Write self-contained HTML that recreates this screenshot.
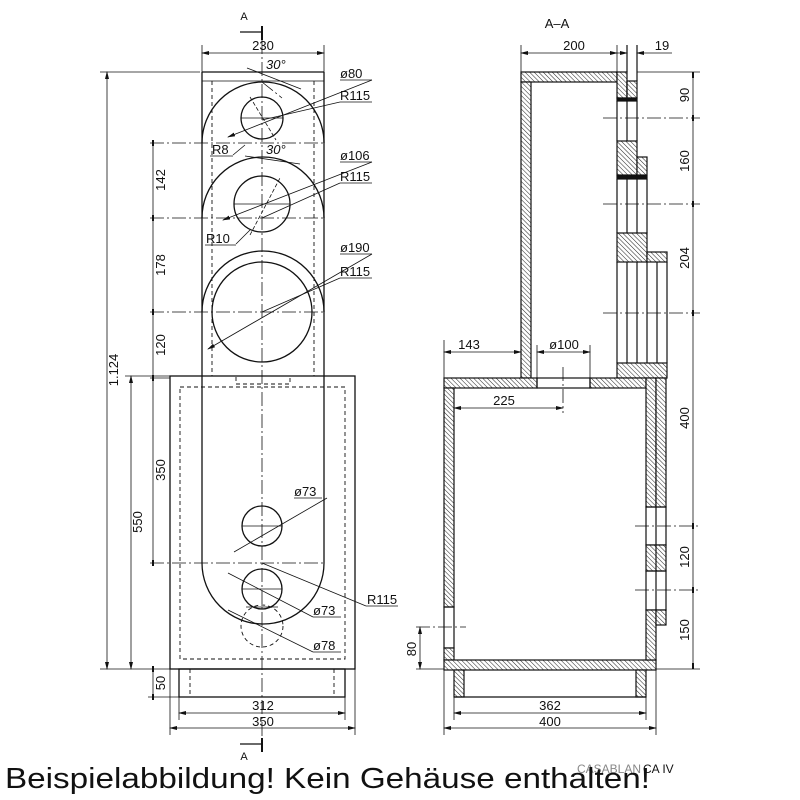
<!DOCTYPE html>
<html><head><meta charset="utf-8"><style>
html,body{margin:0;padding:0;background:#fff;}
svg{display:block;}
text{font-family:"Liberation Sans","DejaVu Sans",sans-serif;fill:#111;}
</style></head><body>
<svg width="800" height="800" viewBox="0 0 800 800" xmlns="http://www.w3.org/2000/svg">
<defs>
<pattern id="h" patternUnits="userSpaceOnUse" width="3.2" height="3.2" patternTransform="rotate(-45)">
<rect width="3.2" height="3.2" fill="#fff"/><line x1="0" y1="0" x2="0" y2="3.2" stroke="#222" stroke-width="1"/>
</pattern>
<marker id="a" markerWidth="8" markerHeight="6" refX="7" refY="3" orient="auto-start-reverse" markerUnits="userSpaceOnUse"><path d="M0,1 L8,3 L0,5 z" fill="#111"/></marker>
</defs>
<g fill="none" stroke="#111" stroke-width="1.3">
<!-- FRONT VIEW upper column -->
<line x1="202" y1="72" x2="324" y2="72"/>
<line x1="202" y1="81" x2="324" y2="81" stroke-width="0.8"/>
<line x1="202" y1="72" x2="202" y2="563"/>
<line x1="324" y1="72" x2="324" y2="563"/>
<path d="M202,563 A61,61 0 0 0 324,563"/>
<path d="M202,143 A61,61 0 0 1 324,143"/>
<path d="M202,218 A61,61 0 0 1 324,218"/>
<path d="M202,312 A61,61 0 0 1 324,312"/>
<g stroke-dasharray="4,3" stroke-width="0.9">
<line x1="212" y1="81" x2="212" y2="376"/><line x1="314" y1="81" x2="314" y2="376"/>
<rect x="236" y="376" width="54" height="8"/>
<rect x="180" y="387" width="165" height="272"/>
<line x1="190" y1="669" x2="190" y2="697"/><line x1="334" y1="669" x2="334" y2="697"/>
<circle cx="262" cy="626" r="21"/>
</g>
<!-- drivers -->
<circle cx="262" cy="118" r="21"/>
<circle cx="262" cy="204" r="28"/>
<circle cx="262" cy="312" r="50"/>
<circle cx="262" cy="526" r="20"/>
<circle cx="262" cy="589" r="20"/>
<g stroke-width="0.8">
<line x1="241" y1="118" x2="283" y2="118"/><line x1="234" y1="204" x2="290" y2="204"/>
<line x1="242" y1="526" x2="282" y2="526"/><line x1="242" y1="589" x2="282" y2="589"/>
<line x1="246" y1="607" x2="278" y2="607"/>
</g>
<!-- box -->
<rect x="170" y="376" width="185" height="293"/>
<rect x="179" y="669" width="166" height="28"/>
<!-- centerlines -->
<g stroke-width="0.8" stroke-dasharray="14,3,2,3">
<line x1="262" y1="40" x2="262" y2="745"/>
<line x1="150" y1="143" x2="326" y2="143"/>
<line x1="150" y1="218" x2="326" y2="218"/>
<line x1="150" y1="312" x2="326" y2="312"/>
<line x1="150" y1="563" x2="326" y2="563"/>
<line x1="262" y1="82" x2="282" y2="98" />
</g>
<!-- section marks -->
<line x1="262" y1="26" x2="262" y2="40" stroke-width="2"/>
<line x1="240" y1="32" x2="262" y2="32"/>
<line x1="262" y1="738" x2="262" y2="752" stroke-width="2"/>
<line x1="240" y1="744" x2="262" y2="744"/>
<!-- leaders -->
<g stroke-width="0.8">
<line x1="228" y1="137" x2="372" y2="80" marker-start="url(#a)"/><line x1="340" y1="80" x2="372" y2="80"/>
<line x1="262" y1="120" x2="340" y2="102"/><line x1="340" y1="102" x2="372" y2="102"/>
<line x1="247" y1="68" x2="301" y2="89"/>
<line x1="245" y1="145" x2="233" y2="155"/><line x1="210" y1="156" x2="233" y2="156"/>
<line x1="250" y1="97" x2="276" y2="140" stroke-dasharray="4,2"/>
<line x1="223" y1="220" x2="372" y2="162" marker-start="url(#a)"/><line x1="340" y1="162" x2="372" y2="162"/>
<line x1="262" y1="218" x2="340" y2="183"/><line x1="340" y1="183" x2="372" y2="183"/>
<line x1="245" y1="156" x2="300" y2="164"/>
<line x1="250" y1="230" x2="236" y2="244"/><line x1="205" y1="245" x2="236" y2="245"/>
<line x1="250" y1="235" x2="280" y2="178" stroke-dasharray="4,2"/>
<line x1="208" y1="349" x2="372" y2="254" marker-start="url(#a)"/><line x1="340" y1="254" x2="372" y2="254"/>
<line x1="262" y1="312" x2="340" y2="278"/><line x1="340" y1="278" x2="372" y2="278"/>
<line x1="234" y1="552" x2="327" y2="498"/><line x1="294" y1="498" x2="322" y2="498"/>
<line x1="262" y1="563" x2="366" y2="606"/><line x1="366" y1="606" x2="398" y2="606"/>
<line x1="228" y1="573" x2="313" y2="617"/><line x1="313" y1="617" x2="341" y2="617"/>
<line x1="228" y1="610" x2="313" y2="652"/><line x1="313" y1="652" x2="341" y2="652"/>
</g>
<!-- dimensions front -->
<g stroke-width="0.8">
<line x1="202" y1="45" x2="202" y2="72"/><line x1="324" y1="45" x2="324" y2="72"/>
<line x1="202" y1="53" x2="324" y2="53" marker-start="url(#a)" marker-end="url(#a)"/>
<line x1="100" y1="72" x2="200" y2="72"/>
<line x1="107" y1="72" x2="107" y2="669" marker-start="url(#a)" marker-end="url(#a)"/>
<line x1="100" y1="669" x2="170" y2="669"/>
<line x1="125" y1="376" x2="170" y2="376"/>
<line x1="131" y1="376" x2="131" y2="669" marker-start="url(#a)" marker-end="url(#a)"/>
<line x1="153" y1="143" x2="153" y2="563"/>
<line x1="153" y1="669" x2="153" y2="697"/>
<line x1="148" y1="697" x2="179" y2="697"/>
<line x1="179" y1="697" x2="179" y2="720"/><line x1="345" y1="697" x2="345" y2="720"/>
<line x1="170" y1="669" x2="170" y2="735"/><line x1="355" y1="669" x2="355" y2="735"/>
<line x1="179" y1="713" x2="345" y2="713" marker-start="url(#a)" marker-end="url(#a)"/>
<line x1="170" y1="728" x2="355" y2="728" marker-start="url(#a)" marker-end="url(#a)"/>
<line x1="150" y1="378" x2="170" y2="378"/>
</g>
<g stroke-width="2">
<line x1="153" y1="140" x2="153" y2="146"/><line x1="153" y1="215" x2="153" y2="221"/>
<line x1="153" y1="309" x2="153" y2="315"/><line x1="153" y1="375" x2="153" y2="381"/>
<line x1="153" y1="560" x2="153" y2="566"/><line x1="153" y1="666" x2="153" y2="672"/><line x1="153" y1="694" x2="153" y2="700"/>
</g>
</g>

<!-- SIDE VIEW -->
<g stroke="#111" stroke-width="1.2">
<!-- upper column -->
<rect x="521" y="72" width="96" height="10" fill="url(#h)"/>
<rect x="521" y="82" width="10" height="296" fill="url(#h)"/>
<rect x="617" y="72" width="10" height="26" fill="url(#h)"/>
<rect x="627" y="81" width="10" height="17" fill="url(#h)"/>
<rect x="617" y="98" width="20" height="3" fill="#111"/>
<rect x="617" y="141" width="20" height="34" fill="url(#h)"/>
<rect x="637" y="157" width="10" height="18" fill="url(#h)"/>
<rect x="617" y="176" width="30" height="3" fill="#111"/>
<rect x="617" y="233" width="30" height="29" fill="url(#h)"/>
<rect x="647" y="252" width="20" height="10" fill="url(#h)"/>
<rect x="617" y="363" width="50" height="15" fill="url(#h)"/>
<g fill="none">
<line x1="617" y1="101" x2="617" y2="141"/><line x1="627" y1="101" x2="627" y2="141"/><line x1="637" y1="101" x2="637" y2="141"/>
<line x1="617" y1="179" x2="617" y2="233"/><line x1="627" y1="179" x2="627" y2="233"/><line x1="637" y1="179" x2="637" y2="233"/><line x1="647" y1="179" x2="647" y2="233"/>
<line x1="617" y1="262" x2="617" y2="363"/><line x1="627" y1="262" x2="627" y2="363"/><line x1="637" y1="262" x2="637" y2="363"/><line x1="647" y1="262" x2="647" y2="363"/><line x1="657" y1="262" x2="657" y2="363"/><line x1="667" y1="262" x2="667" y2="363"/>
<line x1="627" y1="81" x2="627" y2="98"/><line x1="637" y1="45" x2="637" y2="81"/><line x1="627" y1="45" x2="627" y2="72"/>
</g>
<!-- lower box -->
<rect x="444" y="378" width="93" height="10" fill="url(#h)"/>
<rect x="590" y="378" width="56" height="10" fill="url(#h)"/>
<rect x="537" y="378" width="53" height="10" fill="none"/>
<rect x="444" y="388" width="10" height="219" fill="url(#h)"/>
<rect x="444" y="607" width="10" height="41" fill="none"/>
<rect x="444" y="648" width="10" height="12" fill="url(#h)"/>
<rect x="444" y="660" width="212" height="10" fill="url(#h)"/>
<rect x="646" y="378" width="10" height="129" fill="url(#h)"/>
<rect x="656" y="378" width="10" height="129" fill="url(#h)"/>
<rect x="646" y="507" width="20" height="38" fill="none"/>
<rect x="646" y="545" width="20" height="26" fill="url(#h)"/>
<rect x="646" y="571" width="20" height="39" fill="none"/>
<rect x="646" y="610" width="10" height="50" fill="url(#h)"/>
<rect x="656" y="610" width="10" height="15" fill="url(#h)"/>
<line x1="656" y1="507" x2="656" y2="610"/>
<rect x="454" y="670" width="10" height="27" fill="url(#h)"/>
<rect x="636" y="670" width="10" height="27" fill="url(#h)"/>
<line x1="454" y1="697" x2="646" y2="697"/>
</g>
<g fill="none" stroke="#111" stroke-width="0.8">
<g stroke-dasharray="14,3,2,3">
<line x1="603" y1="118" x2="700" y2="118"/>
<line x1="603" y1="204" x2="700" y2="204"/>
<line x1="603" y1="313" x2="700" y2="313"/>
<line x1="635" y1="526" x2="700" y2="526"/>
<line x1="635" y1="590" x2="700" y2="590"/>
<line x1="416" y1="627" x2="466" y2="627"/>
<line x1="563" y1="367" x2="563" y2="413"/>
</g>
<line x1="521" y1="45" x2="521" y2="72"/><line x1="617" y1="45" x2="617" y2="72"/>
<line x1="521" y1="53" x2="617" y2="53" marker-start="url(#a)" marker-end="url(#a)"/>
<line x1="610" y1="53" x2="627" y2="53" marker-end="url(#a)"/>
<line x1="637" y1="53" x2="672" y2="53" marker-start="url(#a)"/>
<line x1="637" y1="72" x2="700" y2="72"/>
<line x1="693" y1="72" x2="693" y2="669"/>
<line x1="656" y1="669" x2="700" y2="669"/>
<line x1="444" y1="340" x2="444" y2="378"/>
<line x1="444" y1="352" x2="521" y2="352" marker-start="url(#a)" marker-end="url(#a)"/>
<line x1="537" y1="345" x2="537" y2="378"/><line x1="590" y1="345" x2="590" y2="378"/>
<line x1="537" y1="352" x2="590" y2="352" marker-start="url(#a)" marker-end="url(#a)"/>
<line x1="454" y1="408" x2="563" y2="408" marker-start="url(#a)" marker-end="url(#a)"/>
<line x1="416" y1="669" x2="444" y2="669"/>
<line x1="420" y1="627" x2="420" y2="669" marker-start="url(#a)" marker-end="url(#a)"/>
<line x1="454" y1="697" x2="454" y2="720"/><line x1="646" y1="697" x2="646" y2="720"/>
<line x1="444" y1="670" x2="444" y2="735"/><line x1="656" y1="670" x2="656" y2="735"/>
<line x1="454" y1="713" x2="646" y2="713" marker-start="url(#a)" marker-end="url(#a)"/>
<line x1="444" y1="728" x2="656" y2="728" marker-start="url(#a)" marker-end="url(#a)"/>
<g stroke-width="2">
<line x1="693" y1="115" x2="693" y2="121"/><line x1="693" y1="201" x2="693" y2="207"/>
<line x1="693" y1="310" x2="693" y2="316"/><line x1="693" y1="523" x2="693" y2="529"/>
<line x1="693" y1="587" x2="693" y2="593"/><line x1="693" y1="72" x2="693" y2="78"/><line x1="693" y1="663" x2="693" y2="669"/>
</g>
</g>

<!-- TEXT -->
<g font-size="13">
<text x="244" y="20" text-anchor="middle" font-size="11">A</text>
<text x="244" y="760" text-anchor="middle" font-size="11">A</text>
<text x="263" y="50" text-anchor="middle">230</text>
<text x="266" y="69" font-style="italic">30°</text>
<text x="266" y="154" font-style="italic">30°</text>
<text x="340" y="78">ø80</text>
<text x="340" y="100">R115</text>
<text x="212" y="154">R8</text>
<text x="340" y="160">ø106</text>
<text x="340" y="181">R115</text>
<text x="206" y="243">R10</text>
<text x="340" y="252">ø190</text>
<text x="340" y="276">R115</text>
<text x="294" y="496">ø73</text>
<text x="367" y="604">R115</text>
<text x="313" y="615">ø73</text>
<text x="313" y="650">ø78</text>
<text x="263" y="710" text-anchor="middle">312</text>
<text x="263" y="726" text-anchor="middle">350</text>
<text transform="translate(118,370) rotate(-90)" text-anchor="middle">1.124</text>
<text transform="translate(142,522) rotate(-90)" text-anchor="middle">550</text>
<text transform="translate(165,180) rotate(-90)" text-anchor="middle">142</text>
<text transform="translate(165,265) rotate(-90)" text-anchor="middle">178</text>
<text transform="translate(165,345) rotate(-90)" text-anchor="middle">120</text>
<text transform="translate(165,470) rotate(-90)" text-anchor="middle">350</text>
<text transform="translate(165,683) rotate(-90)" text-anchor="middle">50</text>
<text x="557" y="28" text-anchor="middle">A–A</text>
<text x="574" y="50" text-anchor="middle">200</text>
<text x="662" y="50" text-anchor="middle">19</text>
<text x="469" y="349" text-anchor="middle">143</text>
<text x="564" y="349" text-anchor="middle">ø100</text>
<text x="504" y="405" text-anchor="middle">225</text>
<text x="550" y="710" text-anchor="middle">362</text>
<text x="550" y="726" text-anchor="middle">400</text>
<text transform="translate(689,95) rotate(-90)" text-anchor="middle">90</text>
<text transform="translate(689,161) rotate(-90)" text-anchor="middle">160</text>
<text transform="translate(689,258) rotate(-90)" text-anchor="middle">204</text>
<text transform="translate(689,418) rotate(-90)" text-anchor="middle">400</text>
<text transform="translate(689,557) rotate(-90)" text-anchor="middle">120</text>
<text transform="translate(689,630) rotate(-90)" text-anchor="middle">150</text>
<text transform="translate(416,649) rotate(-90)" text-anchor="middle">80</text>
</g>
<text x="577" y="773" font-size="12" fill="#999" style="fill:#888">CASABLAN</text>
<text x="643" y="773" font-size="12">CA IV</text>
<text x="5" y="788" font-size="29" textLength="645" lengthAdjust="spacingAndGlyphs">Beispielabbildung! Kein Gehäuse enthalten!</text>
</svg>
</body></html>
